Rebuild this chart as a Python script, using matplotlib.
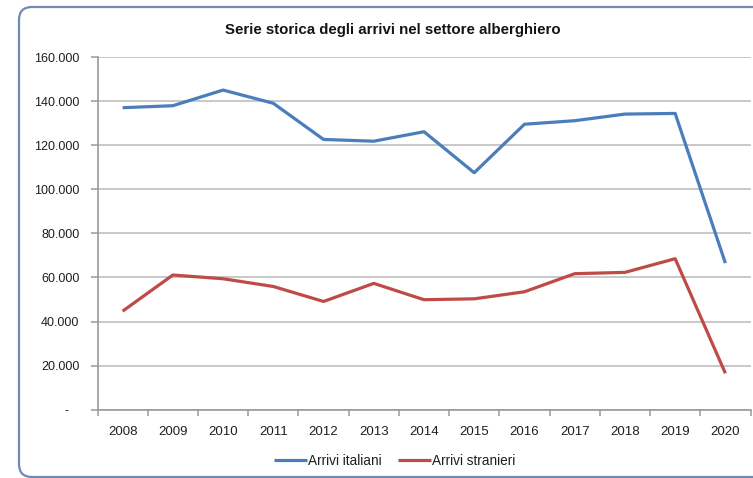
import matplotlib
matplotlib.use("Agg")
import matplotlib.pyplot as plt
from matplotlib.patches import FancyBboxPatch
from matplotlib.transforms import Affine2D
from matplotlib.ticker import FuncFormatter, FixedLocator

years = ["2008", "2009", "2010", "2011", "2012", "2013", "2014",
         "2015", "2016", "2017", "2018", "2019", "2020"]
arrivi_italiani = [137000, 137900, 145000, 139000, 122600, 121800, 126100,
                   107500, 129500, 131100, 134100, 134400, 66500]
arrivi_stranieri = [44700, 61100, 59400, 55900, 49100, 57300, 49900,
                    50300, 53500, 61700, 62300, 68500, 16500]
y_ticks = [0, 20000, 40000, 60000, 80000, 100000, 120000, 140000, 160000]
title = "Serie storica degli arrivi nel settore alberghiero"
series_names = ["Arrivi italiani", "Arrivi stranieri"]

plt.rcParams['font.family'] = ['Liberation Sans', 'DejaVu Sans']

W, H = 753, 478
fig = plt.figure(figsize=(W / 100, H / 100), dpi=100)
fig.patch.set_facecolor("white")

# frame (pixel coordinates, y measured from bottom)
pix = Affine2D().scale(1 / W, 1 / H) + fig.transFigure
frame = FancyBboxPatch((19, 1), 800, H - 7 - 1,
                       boxstyle="round,pad=0,rounding_size=13",
                       transform=pix, facecolor="none",
                       edgecolor="#6f8ab6", linewidth=1.6, zorder=-10)
fig.patches.append(frame)

ax_left, ax_right = 97.5, 750.5
ax_top, ax_bottom = 57.0, 409.7
ax = fig.add_axes([ax_left / W, (H - ax_bottom) / H,
                   (ax_right - ax_left) / W, (ax_bottom - ax_top) / H])
ax.set_facecolor("none")
ax.set_zorder(5)

x = list(range(len(years)))
l1, = ax.plot(x, arrivi_italiani, color="#4a7ebb", lw=2.3,
              solid_joinstyle="round", solid_capstyle="butt", zorder=3)
l2, = ax.plot(x, arrivi_stranieri, color="#be4b48", lw=2.3,
              solid_joinstyle="round", solid_capstyle="butt", zorder=3)

ax.set_xlim(-0.5, len(years) - 0.5)
ax.set_ylim(0, 160000)
ax.set_yticks(y_ticks)


def fmt(v, pos):
    if v == 0:
        return "-   "
    return f"{int(v):,}".replace(",", ".")


ax.yaxis.set_major_formatter(FuncFormatter(fmt))
ax.yaxis.grid(True, color="#c4c4c4", lw=1.3)
ax.set_axisbelow(True)

# x-axis: labels centered on categories, tick marks at boundaries
ax.set_xticks(x)
ax.set_xticklabels(years)
ax.xaxis.set_minor_locator(FixedLocator([i - 0.5 for i in range(len(years) + 1)]))
ax.tick_params(axis="x", which="major", length=0, pad=12, labelsize=9.5,
               labelcolor="#1f1f1f")
ax.tick_params(axis="x", which="minor", length=4, width=1.1, color="#9a9a9a",
               direction="out")
ax.tick_params(axis="y", length=5, width=1.1, color="#9a9a9a", pad=8,
               labelsize=9, labelcolor="#1f1f1f")

for s in ["top", "right"]:
    ax.spines[s].set_visible(False)
for s in ["left", "bottom"]:
    ax.spines[s].set_color("#9a9a9a")
    ax.spines[s].set_linewidth(1.2)

fig.text(393 / W, 1 - 30 / H, title, ha="center", va="center",
         fontsize=10.8, fontweight="bold", color="#141414")

fig.legend([l1, l2], series_names, loc="center",
           bbox_to_anchor=(395 / W, 1 - 460.7 / H), ncol=2, frameon=False,
           fontsize=9.8, handlelength=2.4, handletextpad=0.1,
           columnspacing=1.2, labelcolor="#1f1f1f")

fig.savefig("out.png", dpi=100)
